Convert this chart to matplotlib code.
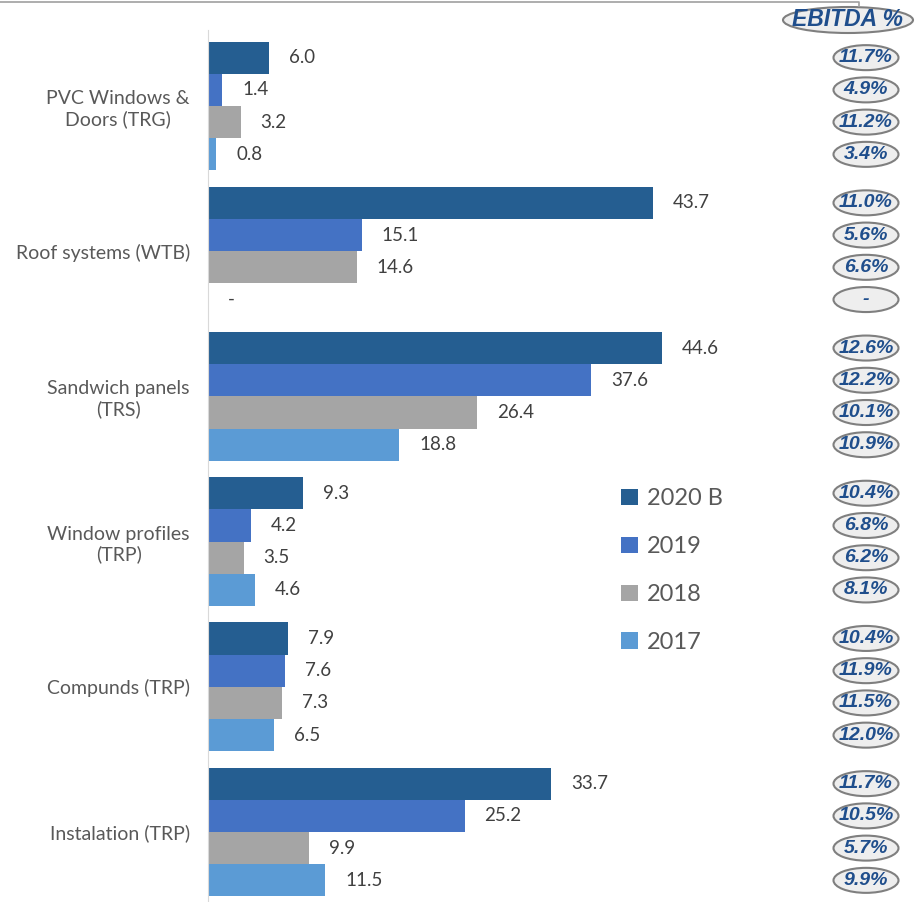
import numpy as np
import matplotlib.pyplot as plt
from matplotlib.patches import Ellipse
from matplotlib.lines import Line2D

plt.rcParams['font.family'] = ['Lato', 'DejaVu Sans']

categories = ["PVC Windows &\nDoors (TRG)", "Roof systems (WTB)", "Sandwich panels\n(TRS)",
              "Window profiles\n(TRP)", "Compunds (TRP)", "Instalation (TRP)"]
years = ["2020 B", "2019", "2018", "2017"]
colors = ["#255e91", "#4472c4", "#a5a5a5", "#5b9bd5"]

# values per year, one entry per category (None = no data)
v2020 = [6.0, 43.7, 44.6, 9.3, 7.9, 33.7]
v2019 = [1.4, 15.1, 37.6, 4.2, 7.6, 25.2]
v2018 = [3.2, 14.6, 26.4, 3.5, 7.3, 9.9]
v2017 = [0.8, None, 18.8, 4.6, 6.5, 11.5]

# EBITDA margins, same layout
e2020 = ["11.7%", "11.0%", "12.6%", "10.4%", "10.4%", "11.7%"]
e2019 = ["4.9%", "5.6%", "12.2%", "6.8%", "11.9%", "10.5%"]
e2018 = ["11.2%", "6.6%", "10.1%", "6.2%", "11.5%", "5.7%"]
e2017 = ["3.4%", "-", "10.9%", "8.1%", "12.0%", "9.9%"]

series = [v2020, v2019, v2018, v2017]
ebitda = [e2020, e2019, e2018, e2017]

W, H = 916, 902
fig = plt.figure(figsize=(W / 100, H / 100), dpi=100)

# pixel layout
x0 = 208
px_per_unit = 10.18
grp_pitch = 145.2
top_center = 106
ax = fig.add_axes([x0 / W, 0, 1 - x0 / W, 1])
xmax = (W - x0) / px_per_unit
ax.set_xlim(0, xmax)
ylo = -top_center / grp_pitch
yhi = ylo + H / grp_pitch
ax.set_ylim(yhi, ylo)

h = 0.222
y = np.arange(len(categories))
offsets = (np.arange(4) - 1.5) * h
pad = 20 / px_per_unit

for i, (vals, col, lab) in enumerate(zip(series, colors, years)):
    yy = y + offsets[i]
    ww = [0 if v is None else v for v in vals]
    ax.barh(yy, ww, height=h, color=col, label=lab)
    for yk, v in zip(yy, vals):
        txt = "-" if v is None else f"{v:.1f}"
        ax.text((0 if v is None else v) + pad, yk, txt, va='center', ha='left',
                fontsize=13.5, color='#404040')

# EBITDA ellipses
ex = (866 - x0) / px_per_unit
ew = 65 / px_per_unit
eh = 25 / grp_pitch
for i, col_vals in enumerate(ebitda):
    for k, t in enumerate(col_vals):
        yk = y[k] + offsets[i]
        ax.add_patch(Ellipse((ex, yk), ew, eh, facecolor='#eeeeee', edgecolor='#7f7f7f',
                             lw=1.5, clip_on=False))
        ax.text(ex, yk, t, ha='center', va='center', fontsize=14, color='#1f4e8c',
                fontweight='bold', fontstyle='italic', family='Liberation Sans')

hx = (848 - x0) / px_per_unit
hy = ylo + 20 / grp_pitch
ax.add_patch(Ellipse((hx, hy), 130 / px_per_unit, 26 / grp_pitch, facecolor='#eeeeee',
                     edgecolor='#7f7f7f', lw=1.5, clip_on=False))
ax.text(hx, hy, "EBITDA %", ha='center', va='center', fontsize=16.5, color='#1f4e8c',
        fontweight='bold', fontstyle='italic', family='Liberation Sans')

ax.set_yticks(y)
ax.set_yticklabels(categories, fontsize=14, color='#595959', ha='right',
                   multialignment='center')
ax.tick_params(axis='y', length=0, pad=13)
ax.set_xticks([])
for s in ['top', 'right', 'bottom']:
    ax.spines[s].set_visible(False)
ax.spines['left'].set_color('#d9d9d9')
ax.spines['left'].set_bounds(ylo + 30 / grp_pitch, yhi)
ax.patch.set_visible(False)

leg = ax.legend(loc='upper left', bbox_to_anchor=(600 / W, 1 - 467 / H),
                bbox_transform=fig.transFigure, frameon=False, fontsize=17,
                handlelength=0.7, handleheight=0.7, handletextpad=0.4,
                labelspacing=1.14)
for t in leg.get_texts():
    t.set_color('#595959')

fig.add_artist(Line2D([0, 859 / W, 859 / W], [1 - 1.5 / H, 1 - 1.5 / H, 1 - 6 / H],
                      transform=fig.transFigure, color='#a0a0a0', lw=1.2))

fig.savefig("out.png", dpi=100)
